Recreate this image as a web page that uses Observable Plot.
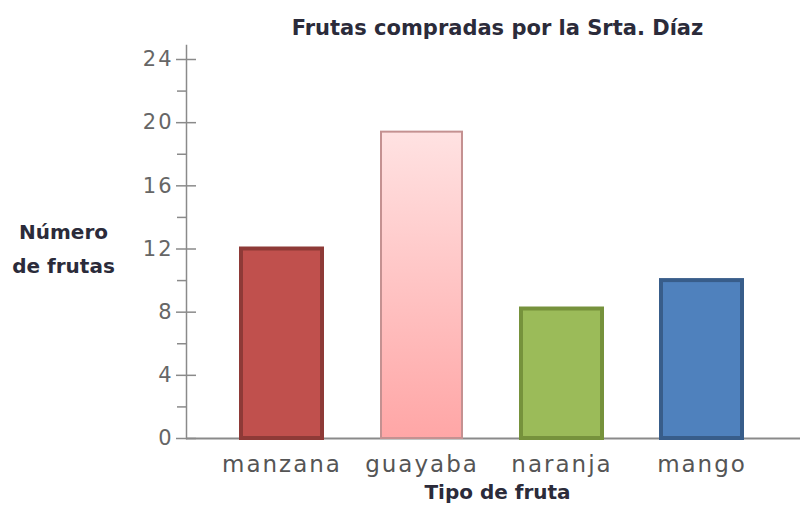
<!DOCTYPE html>
<html>
<head>
<meta charset="utf-8">
<script src="https://cdn.jsdelivr.net/npm/d3@7"></script>
<script src="https://cdn.jsdelivr.net/npm/@observablehq/plot@0.6"></script>
<style>
  html, body { margin: 0; padding: 0; background: #fff; }
  #chart { width: 800px; height: 521px; }
  g[aria-label="x-axis tick label"] text { letter-spacing: 2px; }
  g[aria-label="y-axis tick label"] text { letter-spacing: 2px; }
  g[aria-label="chart title"] text { letter-spacing: 1.6px; }
  g[aria-label="x label"] text { letter-spacing: 1px; }
  g[aria-label="y label"] text { letter-spacing: 0.8px; }
</style>
</head>
<body>
<div id="chart"></div>
<script>
// ---- data ----
const categories = ["manzana", "guayaba", "naranja", "mango"];
const values = [12, 19.4, 8.2, 10];
const yTicks = [0, 4, 8, 12, 16, 20, 24];
const yMinorTicks = [2, 6, 10, 14, 18, 22];
const title = "Frutas compradas por la Srta. Díaz";
const xLabel = "Tipo de fruta";
const yLabelLines = ["Número", "de frutas"];

// ---- styles ----
const fillColors = ["#c0504d", "url(#guayabaGrad)", "#9bbb59", "#4f81bd"];
const strokeColors = ["#8e3a37", "#c49191", "#76923c", "#385d8a"];
const strokeWidths = [4, 2, 4, 4];

const data = categories.map((c, i) => ({fruit: c, count: values[i], i}));

const font = "DejaVu Sans, sans-serif";

const chart = Plot.plot({
  width: 800,
  height: 521,
  marginLeft: 186,
  marginRight: 0,
  marginTop: 45,
  marginBottom: 83,
  style: {fontFamily: font, background: "#fff"},
  x: {domain: categories, insetLeft: 26, insetRight: 28, paddingInner: 0.42, paddingOuter: 0.21},
  y: {domain: [0, 24], insetTop: 14},
  color: {type: "identity"},
  marks: [
    Plot.frame({anchor: "left", stroke: "#8a8a8a", strokeWidth: 1.5}),
    Plot.axisY({ticks: yMinorTicks, tickSize: 9, fill: "none", stroke: "#8a8a8a", strokeWidth: 1.5, label: null}),
    Plot.axisY({ticks: yTicks, tickSize: 20, dx: 10, fill: "none", stroke: "#8a8a8a", strokeWidth: 1.5, label: null}),
    Plot.axisY({ticks: yTicks, tickSize: 0, tickPadding: 13, stroke: "none", fill: "#666", fontSize: 21, label: null}),
    Plot.axisX({tickSize: 0, tickPadding: 17, fill: "#555", fontSize: 23, label: null}),
    Plot.ruleY([0], {stroke: "#8a8a8a", strokeWidth: 2}),
    Plot.barY(data, {
      x: "fruit", y: "count",
      fill: d => fillColors[d.i],
      stroke: d => strokeColors[d.i],
      strokeWidth: d => strokeWidths[d.i]
    }),
    Plot.text([title], {ariaLabel: "chart title", frameAnchor: "top", lineAnchor: "middle", dy: -17, dx: 4, fontSize: 21, fontWeight: "bold", fill: "#2b2b3a"}),
    Plot.text([xLabel], {ariaLabel: "x label", frameAnchor: "bottom", lineAnchor: "middle", dy: 54, dx: 4, fontSize: 20, fontWeight: "bold", fill: "#2b2b3a"}),
    Plot.text([yLabelLines.join("\n")], {ariaLabel: "y label", frameAnchor: "left", textAnchor: "middle", lineAnchor: "middle", lineHeight: 1.7, dx: -123, dy: 3, fontSize: 20, fontWeight: "bold", fill: "#2b2b3a"})
  ]
});

document.getElementById("chart").appendChild(chart);

// gradient for the guayaba bar
const svg = d3.select(chart);
const defs = svg.insert("defs", ":first-child");
const g = defs.append("linearGradient").attr("id", "guayabaGrad")
  .attr("x1", 0).attr("y1", 0).attr("x2", 0).attr("y2", 1);
g.append("stop").attr("offset", "0%").attr("stop-color", "#ffe2e2");
g.append("stop").attr("offset", "100%").attr("stop-color", "#ffa6a6");
</script>
</body>
</html>
